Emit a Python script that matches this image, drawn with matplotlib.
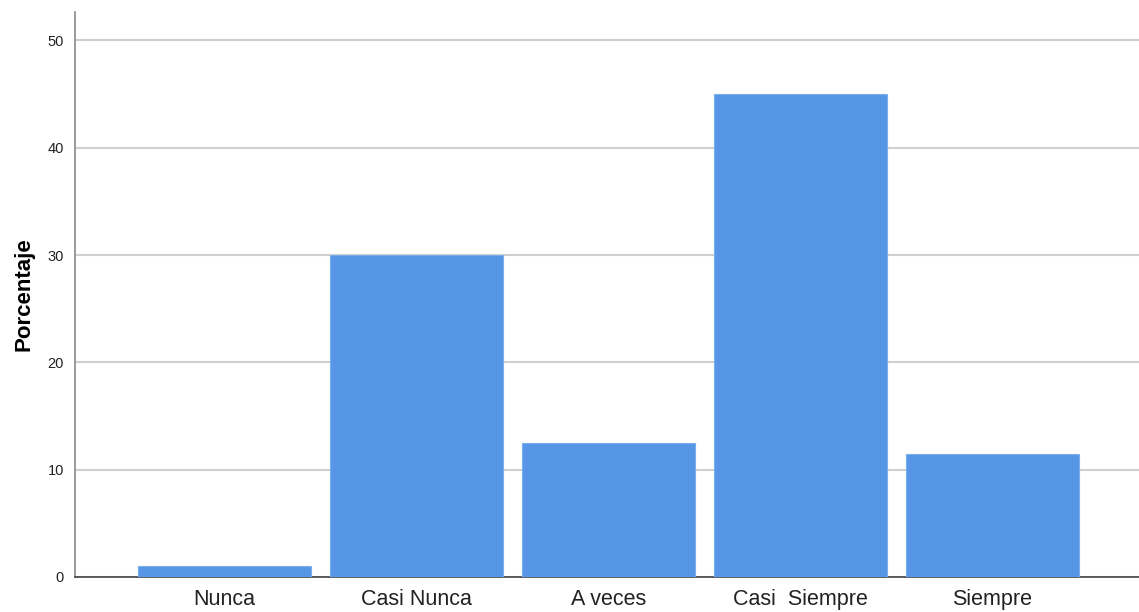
import matplotlib.pyplot as plt

categorias = ["Nunca", "Casi Nunca", "A veces", "Casi  Siempre", "Siempre"]
porcentajes = [1.0, 30.0, 12.5, 45.0, 11.5]
yticks = [0, 10, 20, 30, 40, 50]

plt.rcParams["font.family"] = ["Liberation Sans", "DejaVu Sans"]

fig = plt.figure(figsize=(11.39, 6.12), dpi=100)
ax = fig.add_axes([0.0658, 0.0572, 0.9342, 0.9232])

x = range(len(categorias))
ax.bar(x, porcentajes, width=0.9, color="#5596e6", edgecolor="#7aaeec",
       linewidth=0.8, zorder=3)

ax.set_xlim(-0.779, 4.763)
ax.set_ylim(0, 52.65)
ax.set_yticks(yticks)
ax.set_xticks(list(x))
ax.set_xticklabels(categorias, fontsize=15.5, color="#222222")
ax.tick_params(axis="y", labelsize=10.5, colors="#222222", length=0, pad=8)
ax.tick_params(axis="x", length=0, pad=9)
ax.yaxis.grid(True, color="#d0d0d0", linewidth=1.5, zorder=0)

for s in ["top", "right"]:
    ax.spines[s].set_visible(False)
ax.spines["left"].set_color("#8a8a8a")
ax.spines["left"].set_linewidth(1.2)
ax.spines["bottom"].set_color("#444444")
ax.spines["bottom"].set_linewidth(1.2)

ax.set_ylabel("Porcentaje", fontsize=16, fontweight="bold", labelpad=9)

fig.savefig("out.png", dpi=100)
